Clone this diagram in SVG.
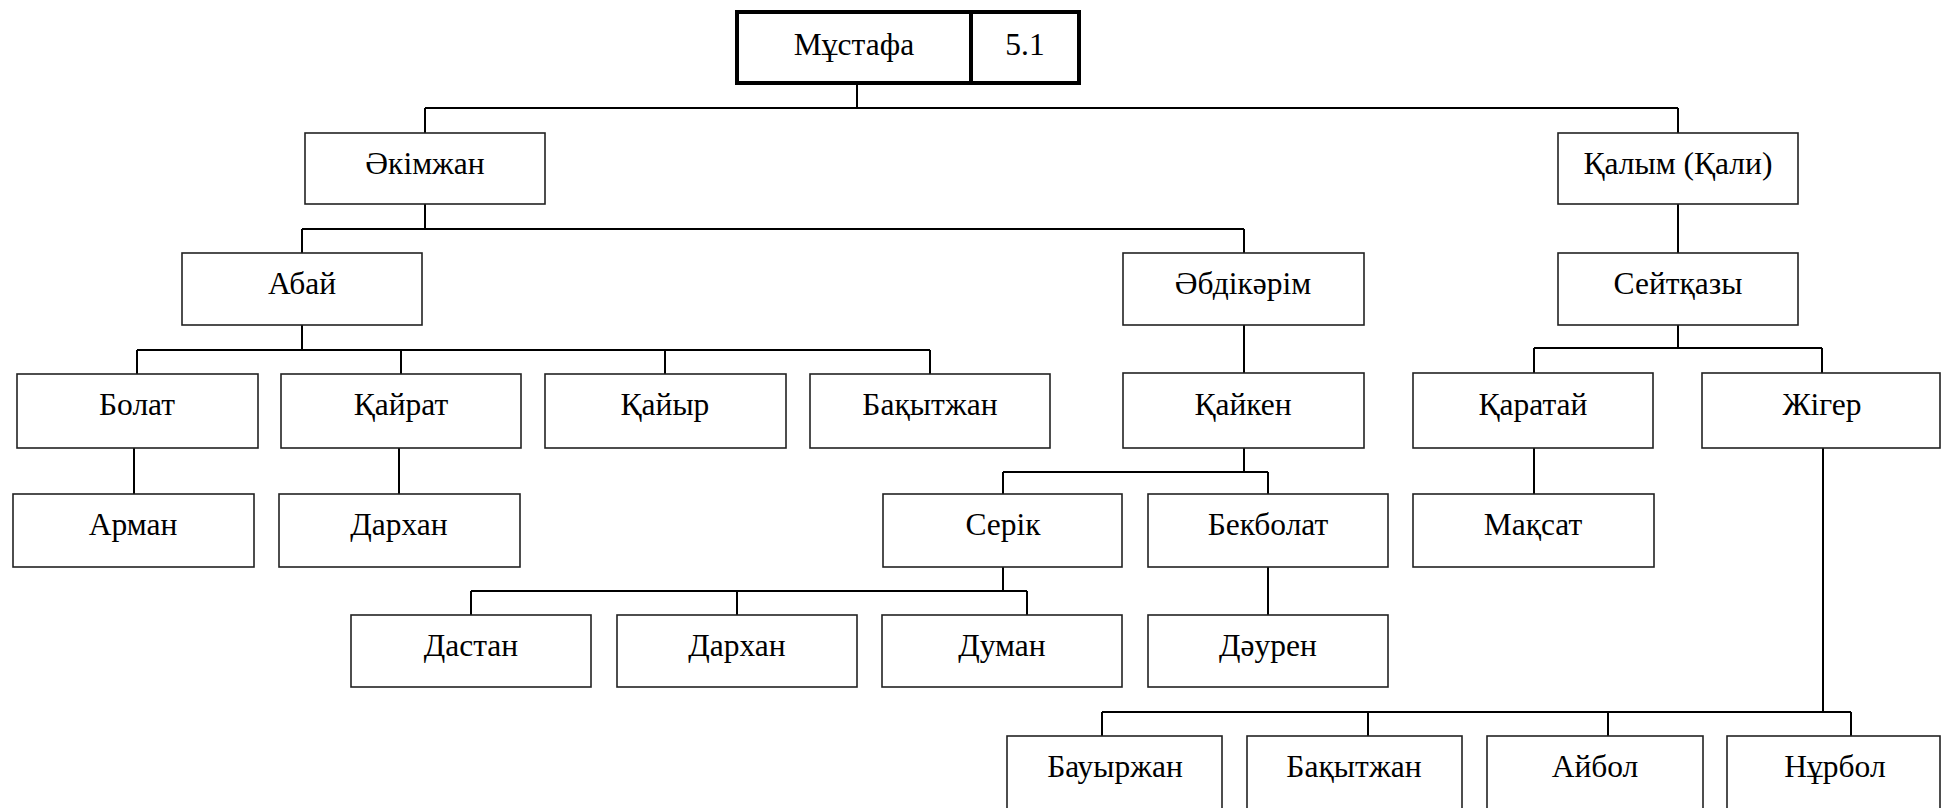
<svg xmlns="http://www.w3.org/2000/svg" width="1942" height="808" viewBox="0 0 1942 808">
<style>
.b{fill:#fff;stroke:#222;stroke-width:1.6}
.t{font-family:"Liberation Serif","Times New Roman","DejaVu Serif",serif;font-size:31.5px;fill:#000;text-anchor:middle}
.c{fill:none;stroke:#000;stroke-width:2}
.root{fill:#fff;stroke:#000;stroke-width:4}
</style>
<rect width="1942" height="808" fill="#fff"/>
<g id="connectors" class="c">
<path d="M857 83V108M425 108H1678M425 108V133M1678 108V133"/>
<path d="M425 204V229M302 229H1244M302 229V253M1244 229V253"/>
<path d="M1678 204V253"/>
<path d="M302 325V350M137 350H930M137 350V374M401 350V374M665 350V374M930 350V374"/>
<path d="M1244 325V373"/>
<path d="M1678 325V348M1534 348H1822M1534 348V373M1822 348V373"/>
<path d="M134 448V494"/>
<path d="M399 448V494"/>
<path d="M1244 448V472M1003 472H1268M1003 472V494M1268 472V494"/>
<path d="M1534 448V494"/>
<path d="M1003 567V591M471 591H1027M471 591V615M737 591V615M1027 591V615"/>
<path d="M1268 567V615"/>
<path d="M1823 448V712M1102 712H1851M1102 712V736M1368 712V736M1608 712V736M1851 712V736"/>
</g>
<g id="n-mustafa"><rect class="root" x="737" y="12" width="234" height="71"/><rect class="root" x="971" y="12" width="108" height="71"/><text class="t" x="854" y="55">Мұстафа</text><text class="t" x="1025" y="55">5.1</text></g>
<g id="n-akimzhan"><rect class="b" x="305" y="133" width="240" height="71"/><text class="t" x="425" y="174">Әкімжан</text></g>
<g id="n-kalym"><rect class="b" x="1558" y="133" width="240" height="71"/><text class="t" x="1678" y="174">Қалым (Қали)</text></g>
<g id="n-abai"><rect class="b" x="182" y="253" width="240" height="72"/><text class="t" x="302" y="294">Абай</text></g>
<g id="n-abdikarim"><rect class="b" x="1123" y="253" width="241" height="72"/><text class="t" x="1243" y="294">Әбдікәрім</text></g>
<g id="n-seitkazy"><rect class="b" x="1558" y="253" width="240" height="72"/><text class="t" x="1678" y="294">Сейтқазы</text></g>
<g id="n-bolat"><rect class="b" x="17" y="374" width="241" height="74"/><text class="t" x="137" y="415">Болат</text></g>
<g id="n-kairat"><rect class="b" x="281" y="374" width="240" height="74"/><text class="t" x="401" y="415">Қайрат</text></g>
<g id="n-kaiyr"><rect class="b" x="545" y="374" width="241" height="74"/><text class="t" x="665" y="415">Қайыр</text></g>
<g id="n-bakytzhan1"><rect class="b" x="810" y="374" width="240" height="74"/><text class="t" x="930" y="415">Бақытжан</text></g>
<g id="n-kaiken"><rect class="b" x="1123" y="373" width="241" height="75"/><text class="t" x="1243" y="415">Қайкен</text></g>
<g id="n-karatai"><rect class="b" x="1413" y="373" width="240" height="75"/><text class="t" x="1533" y="415">Қаратай</text></g>
<g id="n-zhiger"><rect class="b" x="1702" y="373" width="238" height="75"/><text class="t" x="1822" y="415">Жігер</text></g>
<g id="n-arman"><rect class="b" x="13" y="494" width="241" height="73"/><text class="t" x="133" y="535">Арман</text></g>
<g id="n-darkhan1"><rect class="b" x="279" y="494" width="241" height="73"/><text class="t" x="399" y="535">Дархан</text></g>
<g id="n-serik"><rect class="b" x="883" y="494" width="239" height="73"/><text class="t" x="1003" y="535">Серік</text></g>
<g id="n-bekbolat"><rect class="b" x="1148" y="494" width="240" height="73"/><text class="t" x="1268" y="535">Бекболат</text></g>
<g id="n-maksat"><rect class="b" x="1413" y="494" width="241" height="73"/><text class="t" x="1533" y="535">Мақсат</text></g>
<g id="n-dastan"><rect class="b" x="351" y="615" width="240" height="72"/><text class="t" x="471" y="656">Дастан</text></g>
<g id="n-darkhan2"><rect class="b" x="617" y="615" width="240" height="72"/><text class="t" x="737" y="656">Дархан</text></g>
<g id="n-duman"><rect class="b" x="882" y="615" width="240" height="72"/><text class="t" x="1002" y="656">Думан</text></g>
<g id="n-dauren"><rect class="b" x="1148" y="615" width="240" height="72"/><text class="t" x="1268" y="656">Дәурен</text></g>
<g id="n-bauyrzhan"><rect class="b" x="1007" y="736" width="215" height="80"/><text class="t" x="1115" y="777">Бауыржан</text></g>
<g id="n-bakytzhan2"><rect class="b" x="1247" y="736" width="215" height="80"/><text class="t" x="1354" y="777">Бақытжан</text></g>
<g id="n-aibol"><rect class="b" x="1487" y="736" width="216" height="80"/><text class="t" x="1595" y="777">Айбол</text></g>
<g id="n-nurbol"><rect class="b" x="1727" y="736" width="213" height="80"/><text class="t" x="1835" y="777">Нұрбол</text></g>
</svg>
